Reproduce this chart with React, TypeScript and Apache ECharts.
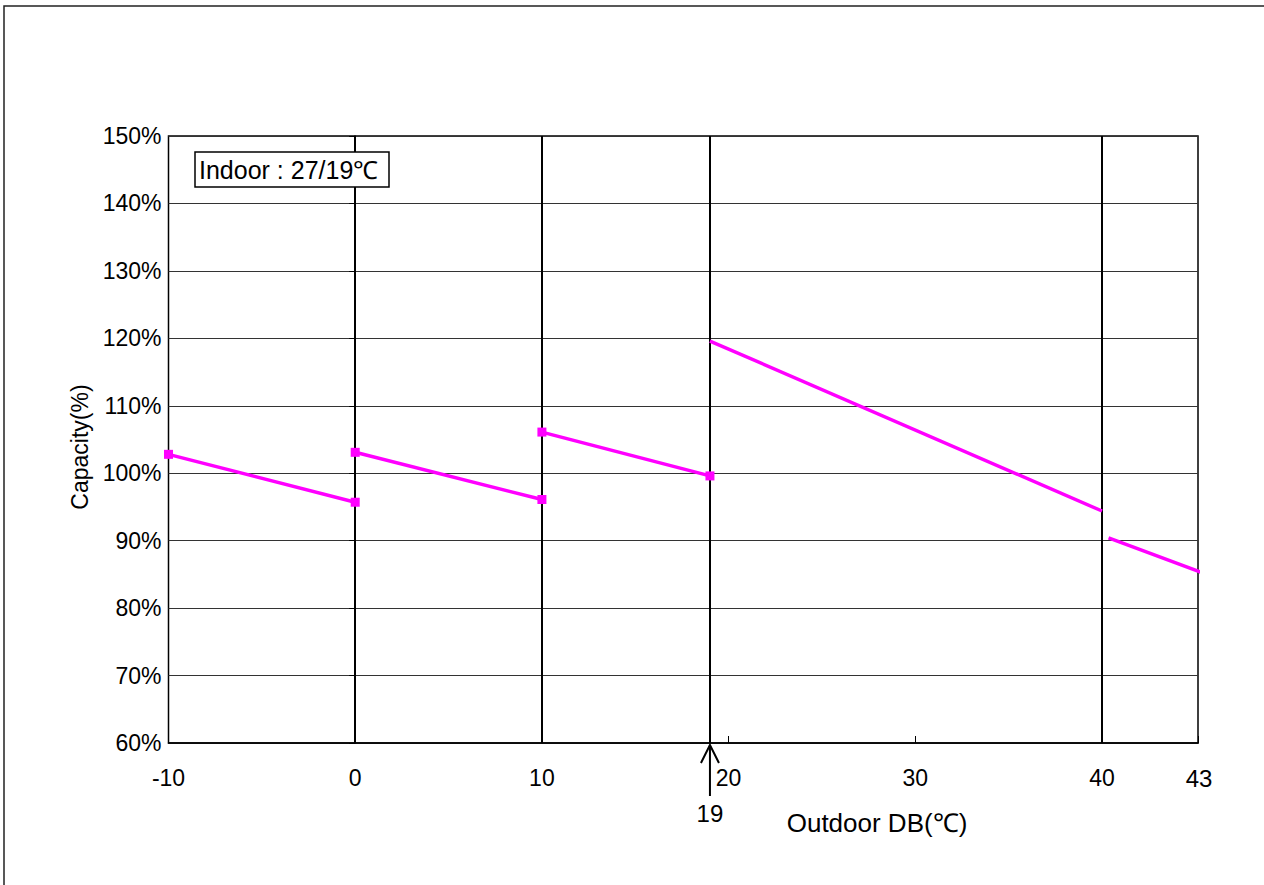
import React, { useEffect, useRef } from "react";
import * as echarts from "echarts";

// Data
const segment1: number[][] = [[-10, 102.8], [0, 95.7]];
const segment2: number[][] = [[0, 103.1], [10, 96.1]];
const segment3: number[][] = [[10, 106.1], [19, 99.6]];
const segment4: number[][] = [[19, 119.6], [40, 94.4]];
const segment5: number[][] = [[40.35, 90.4], [45.4, 85.2]];

const verticalLines = [0, 10, 19, 40];
const xMin = -10;
const xMax = 45.14;
const yMin = 60;
const yMax = 150;
const xEndLabel = "43";
const markedX = 19;
const legendText = "Indoor : 27/19\u2103";
const xName = "Outdoor DB(\u2103)";
const yName = "Capacity(%)";

const FONT = "'Liberation Sans', Arial, sans-serif";
const MAGENTA = "#ff00ff";

export default function App() {
  const ref = useRef<HTMLDivElement>(null);
  useEffect(() => {
    document.body.style.margin = "0";
    if (!ref.current) return;
    const chart = echarts.init(ref.current, undefined, { renderer: "svg" });

    const lineSeries = (data: number[][], withMarkers: boolean, extra: any = {}) => ({
      type: "line",
      data,
      symbol: withMarkers ? "rect" : "none",
      symbolSize: 9,
      showSymbol: withMarkers,
      itemStyle: { color: MAGENTA },
      lineStyle: { color: MAGENTA, width: 3.5 },
      z: 5,
      ...extra,
    });

    chart.setOption({
      animation: false,
      grid: {
        left: 168.5,
        top: 136,
        width: 1029.5,
        height: 607,
        show: true,
        borderColor: "#000",
        borderWidth: 1.5,
        backgroundColor: "transparent",
      },
      xAxis: {
        type: "value",
        min: xMin,
        max: xMax,
        interval: 10,
        axisLine: { lineStyle: { color: "#000", width: 1.5 } },
        axisTick: { inside: true, length: 7, lineStyle: { color: "#000", width: 1 } },
        splitLine: { show: false },
        axisLabel: {
          color: "#000",
          fontFamily: FONT,
          fontSize: 23,
          margin: 23,
          formatter: (v: number) => (Math.abs(v % 10) < 1e-6 ? String(v) : ""),
        },
      },
      yAxis: {
        type: "value",
        min: yMin,
        max: yMax,
        interval: 10,
        axisLine: { lineStyle: { color: "#000", width: 1.5 } },
        axisTick: { inside: false, length: 6, lineStyle: { color: "#000", width: 1 } },
        splitLine: { show: true, lineStyle: { color: "#333", width: 1 } },
        axisLabel: {
          color: "#000",
          fontFamily: FONT,
          fontSize: 23,
          margin: 7,
          formatter: (v: number) => v + "%",
        },
      },
      series: [
        lineSeries(segment1, true, {
          markLine: {
            silent: true,
            symbol: "none",
            label: { show: false },
            lineStyle: { color: "#000", width: 2, type: "solid" },
            data: verticalLines.map((x) => ({ xAxis: x })),
            z: 3,
          },
        }),
        lineSeries(segment2, true),
        lineSeries(segment3, true),
        lineSeries(segment4, false),
        lineSeries(segment5, false, { clip: false }),
      ],
    });

    const pEnd = chart.convertToPixel({ gridIndex: 0 }, [xMax, yMin]) as number[];
    const p19 = chart.convertToPixel({ gridIndex: 0 }, [markedX, yMin]) as number[];

    chart.setOption({
      graphic: [
        {
          type: "rect",
          shape: { x: 4, y: 6, width: 1400, height: 1000 },
          style: { fill: "none", stroke: "#222", lineWidth: 1.5 },
          silent: true,
          z: 0,
        },
        {
          type: "rect",
          shape: { x: 195, y: 152, width: 194, height: 35 },
          style: { fill: "#fff", stroke: "#000", lineWidth: 1.5 },
          z: 10,
        },
        {
          type: "text",
          x: 199,
          y: 170,
          style: {
            text: legendText,
            fontFamily: FONT,
            fontSize: 25,
            fill: "#000",
            verticalAlign: "middle",
            align: "left",
          },
          z: 11,
        },
        {
          type: "text",
          x: pEnd[0] + 1,
          y: pEnd[1] + 35,
          style: {
            text: xEndLabel,
            fontFamily: FONT,
            fontSize: 24,
            fill: "#000",
            align: "center",
            verticalAlign: "middle",
          },
        },
        {
          type: "line",
          shape: { x1: p19[0], y1: p19[1] + 2, x2: p19[0], y2: p19[1] + 53 },
          style: { stroke: "#000", lineWidth: 2 },
        },
        {
          type: "polyline",
          shape: {
            points: [
              [p19[0] - 9, p19[1] + 20],
              [p19[0], p19[1] + 2],
              [p19[0] + 9, p19[1] + 20],
            ],
          },
          style: { stroke: "#000", lineWidth: 2, fill: "none" },
        },
        {
          type: "text",
          x: p19[0],
          y: p19[1] + 70,
          style: {
            text: String(markedX),
            fontFamily: FONT,
            fontSize: 24,
            fill: "#000",
            align: "center",
            verticalAlign: "middle",
          },
        },
        {
          type: "text",
          x: 877,
          y: 823,
          style: {
            text: xName,
            fontFamily: FONT,
            fontSize: 26,
            fill: "#000",
            align: "center",
            verticalAlign: "middle",
          },
        },
        {
          type: "text",
          x: 80,
          y: 447,
          rotation: Math.PI / 2,
          style: {
            text: yName,
            fontFamily: FONT,
            fontSize: 23,
            fill: "#000",
            align: "center",
            verticalAlign: "middle",
          },
        },
      ],
    });

    return () => chart.dispose();
  }, []);

  return <div ref={ref} style={{ width: 1264, height: 885 }} />;
}
